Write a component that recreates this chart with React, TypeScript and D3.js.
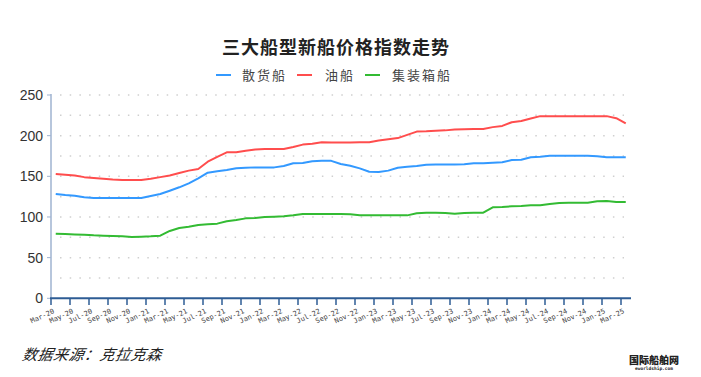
import React from "react";
import * as d3 from "d3";

const months = (() => {
  const names = ["Jan","Feb","Mar","Apr","May","Jun","Jul","Aug","Sep","Oct","Nov","Dec"];
  const out: string[] = [];
  for (let k = 0; k < 61; k++) {
    const m = (2 + k) % 12;
    const y = 20 + Math.floor((2 + k) / 12);
    out.push(`${names[m]}-${y}`);
  }
  return out;
})();

const bulk = [128.3,127,126,124.2,123.3,123.3,123.3,123.3,123.3,123.3,125.8,128.3,132.3,136.5,141.4,147.5,154.5,156.2,157.8,159.8,160.6,161,161,161,162.7,166,166.4,168.5,169.2,169,165.2,163,159.8,155.7,155.3,157,160.6,161.8,162.7,164.3,164.5,164.5,164.6,164.8,166,166,166.8,167.3,170,170.4,173.4,174.2,175.4,175.4,175.4,175.4,175.4,174.6,173.4,173.4,173.4];
const tanker = [153,152,151,149,148,147,146,145.5,145.5,145.5,147,149,151,154,157,159,168,174,179.5,179.5,181.5,183,183.5,183.5,183.5,186,189,190,192,191.5,191.5,191.6,192,192,194,195.5,197,201,205,205.3,206,206.5,207.5,208,208.3,208.3,210.5,212,216.5,218,221,224,224,224,224,224,224,224,224,221.5,215];
const container = [79.5,79,78.5,78.2,77.4,77,76.6,76.2,75.4,75.8,76.2,77,82.8,86.4,88,90.1,91,91.8,94.7,96.3,98.3,98.7,100,100.4,100.8,102,103.7,103.7,103.7,103.7,103.7,103.3,102,102,102,102,102,102,104.5,105.3,105.3,104.9,104,105,105.3,105.3,111.9,112.3,113.1,113.5,114.4,114.4,116,117.2,117.6,117.6,117.6,119.3,119.7,118.4,118.4];

const seriesNames = ["散货船", "油船", "集装箱船"];
const seriesColors = ["#3399ff", "#ff4d4d", "#33bb33"];
const yTicks = [0, 50, 100, 150, 200, 250];
const gridValues = [25, 50, 75, 100, 125, 150, 175, 200, 225, 250];

export default function App() {
  const W = 701, H = 377;
  const x = d3.scaleBand<string>().domain(months).range([51, 630.5]).paddingInner(0).paddingOuter(0);
  const y = d3.scaleLinear().domain([0, 250]).range([298.3, 95]);
  const cx = (m: string) => (x(m) as number) + x.bandwidth() / 2;
  const line = d3.line<number>().x((_, i) => cx(months[i])).y((v) => y(v));
  const data = [bulk, tanker, container];
  const font = "'Noto Sans CJK SC', 'Noto Sans', sans-serif";

  const legendItems = [
    { lx: 216, tx: 242 },
    { lx: 297, tx: 325 },
    { lx: 365, tx: 392 },
  ];

  return (
    <svg width={W} height={H} style={{ position: "absolute", left: 0, top: 0, background: "#fff" }}>
      <rect x={0} y={0} width={W} height={H} fill="#fff" />
      <text x={336} y={54} textAnchor="middle" fontFamily={font} fontWeight={700} fontSize={18} letterSpacing={1} fill="#222">
        三大船型新船价格指数走势
      </text>
      {legendItems.map((it, i) => (
        <g key={i}>
          <line x1={it.lx} x2={it.lx + 15} y1={75} y2={75} stroke={seriesColors[i]} strokeWidth={2} />
          <text x={it.tx} y={80} fontFamily={font} fontSize={13} letterSpacing={2} fill="#444">
            {seriesNames[i]}
          </text>
        </g>
      ))}
      {gridValues.map((v) => (
        <line key={v} x1={60} x2={624} y1={y(v)} y2={y(v)} stroke="#cfcfcf" strokeWidth={1.5} strokeDasharray="1.5 8.2" />
      ))}
      <line x1={51} x2={51} y1={94} y2={298} stroke="#9fb3d1" strokeWidth={1.5} />
      {yTicks.map((v) => (
        <g key={v}>
          <line x1={47} x2={51} y1={y(v)} y2={y(v)} stroke="#9fb3d1" strokeWidth={1} />
          <text x={43} y={y(v)} dy="0.35em" textAnchor="end" fontFamily="'Liberation Sans', Arial, sans-serif" fontSize={14} fill="#333">
            {v}
          </text>
        </g>
      ))}
      {data.map((s, i) => (
        <path key={i} d={line(s) as string} fill="none" stroke={seriesColors[i]} strokeWidth={2} strokeLinejoin="round" />
      ))}
      <line x1={50} x2={631} y1={298.3} y2={298.3} stroke="#2e5c94" strokeWidth={2} />
      {months.map((m, i) =>
        i % 2 === 0 ? (
          <g key={m}>
            <line x1={x(m) as number} x2={x(m) as number} y1={298} y2={305} stroke="#2e5c94" strokeWidth={1.5} />
            <text
              transform={`translate(${(x(m) as number) + 2},${309}) rotate(-25)`}
              textAnchor="end"
              dy="0.6em"
              fontFamily="'DejaVu Sans Mono', monospace"
              fontSize={7}
              fill="#444"
            >
              {m}
            </text>
          </g>
        ) : null
      )}
      <text x={22} y={360} fontFamily={font} fontStyle="italic" fontSize={15} letterSpacing={0.5} fill="#222" transform="skewX(-10) translate(63,0)">
        数据来源：克拉克森
      </text>
      <text x={654} y={364} textAnchor="middle" fontFamily={font} fontWeight={900} fontSize={10} fill="#222">
        国际船舶网
      </text>
      <text x={654} y={370} textAnchor="middle" fontFamily="'DejaVu Sans Mono', monospace" fontWeight={700} fontSize={4.5} fill="#222">
        eworldship.com
      </text>
    </svg>
  );
}
